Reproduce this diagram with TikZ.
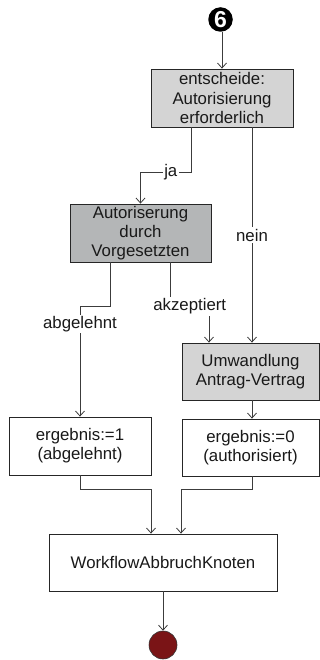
\documentclass[tikz,border=0pt]{standalone}
\usepackage{fontspec}
\setmainfont{Liberation Sans}
\usetikzlibrary{arrows.meta}

\definecolor{decfill}{RGB}{212,212,212}
\definecolor{taskfill}{RGB}{180,182,183}
\definecolor{endred}{RGB}{122,20,22}
\definecolor{wire}{RGB}{60,60,60}

\begin{document}
\begin{tikzpicture}[x=1pt,y=-1pt,
  txt/.style={font=\fontsize{16.8}{19.2}\selectfont, text=black!90},
  box/.style={txt, draw=black!85, line width=0.8pt, align=center, inner sep=0pt},
  lightbox/.style={box, fill=decfill},
  darkbox/.style={box, fill=taskfill},
  plainbox/.style={box, fill=white},
  flow/.style={draw=wire, line width=0.8pt, -{Straight Barb[length=5pt,width=9pt]}},
  lbl/.style={txt, fill=white, inner sep=1.5pt}]

\useasboundingbox (0,0) rectangle (320,660);

% start marker: negative circled six
\node[circle, fill=black, minimum size=24.5pt, inner sep=0pt,
      text=white, font=\fontsize{23}{23}\selectfont\bfseries] (start) at (220.5,19.5) {6};

% activities
\node[lightbox, minimum width=142pt, minimum height=58pt] (dec) at (222,98)
  {entscheide:\\Autorisierung\\erforderlich};
\node[darkbox, minimum width=141pt, minimum height=58pt] (auth) at (140.5,233)
  {Autoriserung\\durch\\Vorgesetzten};
\node[lightbox, minimum width=137pt, minimum height=57pt] (conv) at (250.5,371.5)
  {Umwandlung\\Antrag-Vertrag};
\node[plainbox, minimum width=142pt, minimum height=58pt] (res1) at (80,446)
  {ergebnis:=1\\(abgelehnt)};
\node[plainbox, minimum width=137pt, minimum height=57pt] (res0) at (250.5,447.5)
  {ergebnis:=0\\(authorisiert)};
\node[plainbox, minimum width=228pt, minimum height=57pt] (abort) at (163,562.5)
  {WorkflowAbbruchKnoten};

% final node
\node[circle, fill=endred, draw=black!80, line width=0.6pt, minimum size=28pt, inner sep=0pt] (end) at (163,645) {};

% transitions
\draw[flow] (start.south -| dec.north) -- (dec.north);
\draw[flow] ([xshift=-31pt]dec.south) -- ++(0,45) -| node[lbl, pos=0.2] {ja} (auth.north);
\draw[flow] ([xshift=30pt]dec.south) -- node[lbl] {nein} ([xshift=30pt]dec.south |- conv.north);
\draw[flow] ([xshift=-30.5pt]auth.south) -- ++(0,44) -| node[lbl, pos=0.58] {abgelehnt} (res1.north);
\draw[flow] ([xshift=30pt]auth.south) -- ++(0,44) -| node[lbl, pos=0.25] {akzeptiert} ([xshift=-41.5pt]conv.north);
\draw[flow] ([xshift=1.5pt]conv.south) -- ([xshift=1.5pt]res0.north);
\draw[flow] (res1.south) -- ++(0,14) -| ([xshift=-12pt]abort.north);
\draw[flow] ([xshift=1.5pt]res0.south) -- ++(0,13) -| ([xshift=18pt]abort.north);
\draw[flow] (abort.south) -- (end.north);

\end{tikzpicture}
\end{document}
